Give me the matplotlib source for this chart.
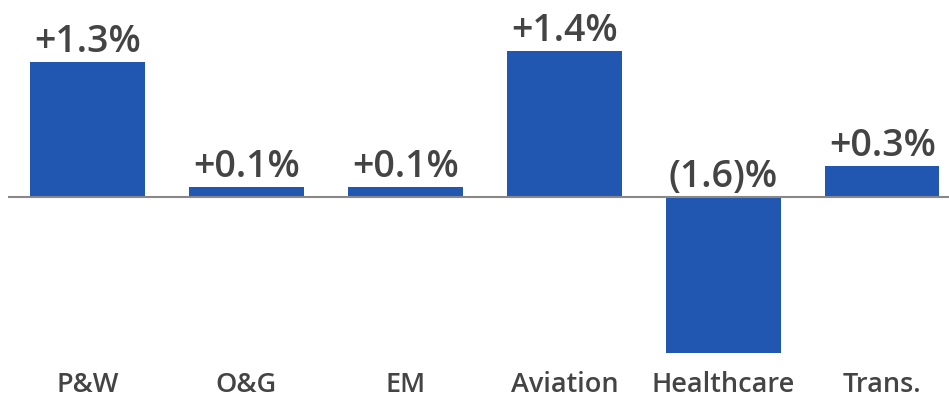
import matplotlib
matplotlib.use("Agg")
import matplotlib.pyplot as plt

# === DATA ===
categories = ["P&W", "O&G", "EM", "Aviation", "Healthcare", "Trans."]
values = [1.3, 0.1, 0.1, 1.4, -1.5, 0.3]
value_labels = ["+1.3%", "+0.1%", "+0.1%", "+1.4%", "(1.6)%", "+0.3%"]

# === STYLE ===
bar_color = "#2157b0"
text_color = "#444444"
plt.rcParams["font.family"] = ["Open Sans", "DejaVu Sans"]

fig = plt.figure(figsize=(9.49, 4.02), dpi=100)
ax = fig.add_axes([8 / 949, 0, 941 / 949, 1])

x = list(range(len(categories)))
ax.bar(x, values, width=0.72, color=bar_color, zorder=2)
ax.axhline(0, color="#888888", linewidth=1.5, zorder=3)

ax.set_xlim(-0.5, 5.42)
ax.set_ylim(-1.96, 1.904)

for i, (v, lab) in enumerate(zip(values, value_labels)):
    ax.annotate(lab, (i, max(v, 0)), xytext=(0, 8), textcoords="offset points",
                ha="center", va="baseline", fontsize=27, fontweight=600,
                color=text_color)

for i, cat in enumerate(categories):
    ax.text(i, -1.80, cat, ha="center", va="center", fontsize=19.5,
            fontweight=600, color=text_color)

ax.axis("off")
fig.savefig("out.png", dpi=100)
